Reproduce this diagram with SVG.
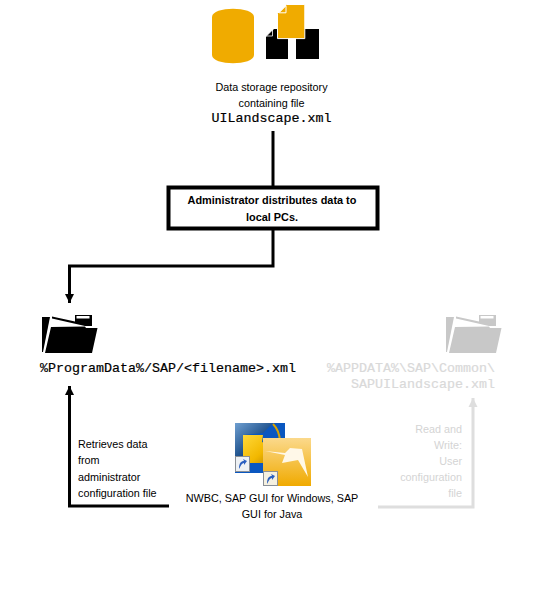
<svg xmlns="http://www.w3.org/2000/svg" width="536" height="608" viewBox="0 0 536 608">
<defs>
<style>
.s{font-family:"Liberation Sans",Arial,sans-serif;font-size:10.8px;fill:#000}
.b{font-weight:bold;font-size:10.9px}
.m{font-family:"Liberation Mono","Courier New",monospace;font-size:13.33px;fill:#000;stroke:#000;stroke-width:.2}
.g{fill:#d4d4d4}
.mg{fill:#d9d9d9;stroke:#d9d9d9}
.c{fill:none;stroke:#000;stroke-width:3}
.cg{fill:none;stroke:#dedede;stroke-width:3}
</style>
<marker id="a" markerUnits="userSpaceOnUse" markerWidth="11" markerHeight="11" refX="9" refY="5" orient="auto"><path d="M0 0.500L9 5L0 9.500z" fill="#000"/></marker>
<marker id="ag" markerUnits="userSpaceOnUse" markerWidth="11" markerHeight="11" refX="9" refY="5" orient="auto"><path d="M0 0.500L9 5L0 9.500z" fill="#dedede"/></marker>
<linearGradient id="b1" x1="0" y1="0" x2="1" y2="1"><stop offset="0" stop-color="#6f9fd0"/><stop offset=".6" stop-color="#174a86"/><stop offset="1" stop-color="#0a57c0"/></linearGradient>
<linearGradient id="y1" x1="0" y1="0" x2="1" y2="1"><stop offset="0" stop-color="#ffd83a"/><stop offset=".6" stop-color="#f2b800"/><stop offset="1" stop-color="#b98400"/></linearGradient>
<linearGradient id="o1" x1="0" y1="0" x2="0" y2="1"><stop offset="0" stop-color="#fbd98c"/><stop offset="1" stop-color="#f0aa00"/></linearGradient>
<g id="folder"><path d="M0 2H8L1 37H0z"/><path d="M10 1.500L33 6.500V0H50V11H43L10 3.500z"/><path d="M34.500 1H47.500V3.500H34.500z" fill="#fff"/><path d="M9 12L43 11.500 44 13H55.500L50 38H3z"/></g>
</defs>
<g id="connectors">
<path class="c" d="M273 131V186"/>
<path class="c" d="M273 230V266H69.500V303" marker-end="url(#a)"/>
<path class="c" d="M169 506H69.500V386" marker-end="url(#a)"/>
<path class="cg" d="M378 507H473V398" marker-end="url(#ag)"/>
</g>
<g id="repository">
<path d="M212 17C212 6 254 6 254 17V55C254 66 212 66 212 55z" fill="#f0ab00"/>
<path d="M266 37L274 29H288V59H266z"/><path d="M296 29H319V59H296z"/>
<path d="M266.500 36L272.500 30V36z" stroke="#fff" stroke-width=".8"/>
<path d="M286.500 4.500H304.800V38.600H277.500V13.500z" fill="#f0ab00" stroke="#fff" stroke-width="1"/>
<path d="M279 12.800L286 5.800V12.800z" fill="#f0ab00" stroke="#fff" stroke-width="1"/>
<text class="s" text-anchor="middle" x="271.500" y="91">Data storage repository</text>
<text class="s" text-anchor="middle" x="271.500" y="107">containing file</text>
<text class="m" text-anchor="middle" x="271.500" y="122">UILandscape.xml</text>
</g>
<g id="admin">
<rect x="168.500" y="187.500" width="209" height="41" fill="#fff" stroke="#000" stroke-width="4"/>
<text class="s b" text-anchor="middle" x="272" y="204">Administrator distributes data to</text>
<text class="s b" text-anchor="middle" x="272" y="221">local PCs.</text>
</g>
<g id="programdata">
<use href="#folder" x="42" y="315"/>
<text class="m" x="40" y="372">%ProgramData%/SAP/&lt;filename&gt;.xml</text>
</g>
<g id="appdata">
<use href="#folder" x="446" y="315" fill="#c8c8c8"/>
<text class="m mg" text-anchor="end" x="495" y="372">%APPDATA%\SAP\Common\</text>
<text class="m mg" text-anchor="end" x="495" y="388">SAPUILandscape.xml</text>
</g>
<g id="clients">
<rect x="235" y="423" width="50" height="50" fill="#0a57c0"/>
<path d="M235 423H273L263 433 243 435V456H235z" fill="url(#b1)"/>
<path d="M273 424C281 432 283 450 275 458" fill="none" stroke="#d9a300" stroke-width="2"/>
<path d="M243 435H263L262 442C270 445 276 452 275 458L263 463H243z" fill="url(#y1)"/>
<rect x="235.500" y="456.500" width="14" height="15" fill="#eef1f4" stroke="#8a8f96" stroke-width="1"/>
<path d="M239 469C239 463 241 461 244 461L243 459 247 461 244 465V463C242 463 241 465 239 469z" fill="#2a5fc0"/>
<rect x="263" y="438" width="48" height="48" fill="url(#o1)"/>
<path d="M265 451L285 453 290 448 302 449 308 477 298 460 282 463 285 455z" fill="#fff8e8"/>
<rect x="263.500" y="471.500" width="14" height="14" fill="#f5f0e0" stroke="#8a8f96" stroke-width="1"/>
<path d="M267 484C267 478 269 476 272 476L271 474 275 476 272 480V478C270 478 269 480 267 484z" fill="#2a5fc0"/>
<text class="s" text-anchor="middle" x="272" y="502">NWBC, SAP GUI for Windows, SAP</text>
<text class="s" text-anchor="middle" x="272" y="518">GUI for Java</text>
</g>
<g id="retrieves-label">
<text class="s" x="78" y="448">Retrieves data</text>
<text class="s" x="78" y="464">from</text>
<text class="s" x="78" y="481">administrator</text>
<text class="s" x="78" y="497">configuration file</text>
</g>
<g id="readwrite-label">
<text class="s g" text-anchor="end" x="462" y="433">Read and</text>
<text class="s g" text-anchor="end" x="462" y="449">Write:</text>
<text class="s g" text-anchor="end" x="462" y="465">User</text>
<text class="s g" text-anchor="end" x="462" y="481">configuration</text>
<text class="s g" text-anchor="end" x="462" y="497">file</text>
</g>
</svg>
